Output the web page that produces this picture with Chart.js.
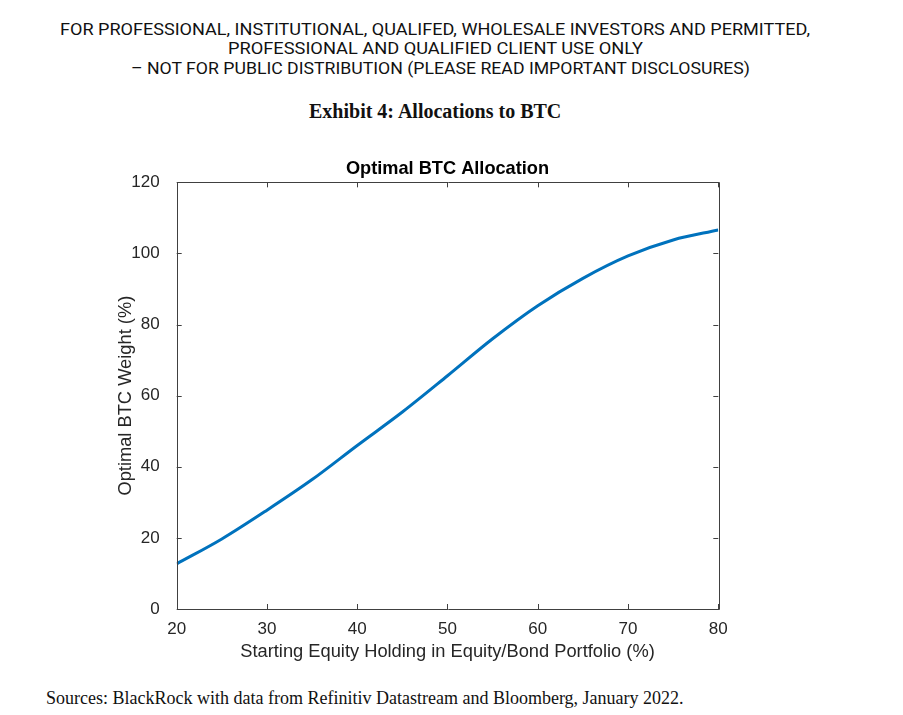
<!DOCTYPE html>
<html>
<head>
<meta charset="utf-8">
<script src="https://cdn.jsdelivr.net/npm/chart.js@4"></script>
<style>
  body { margin: 0; background: #fff; width: 903px; height: 715px; position: relative; overflow: hidden; }
  .hdr { position: absolute; white-space: nowrap; font-family: Roboto, "Liberation Sans", sans-serif; font-size: 16px; color: #111; transform-origin: left center; line-height: 20px; }
  .serif { position: absolute; white-space: nowrap; font-family: "Liberation Serif", "Times New Roman", serif; color: #111; line-height: 22px; }
  #wrap { position: absolute; left: 0; top: 140px; width: 903px; height: 540px; }
</style>
</head>
<body>
<div class="hdr" id="h1" data-left="60" data-width="750" style="top:20px">FOR PROFESSIONAL, INSTITUTIONAL, QUALIFED, WHOLESALE INVESTORS AND PERMITTED,</div>
<div class="hdr" id="h2" data-left="228" data-width="415" style="top:39px">PROFESSIONAL AND QUALIFIED CLIENT USE ONLY</div>
<div class="hdr" id="h3" data-left="131" data-width="619" style="top:59px">– NOT FOR PUBLIC DISTRIBUTION (PLEASE READ IMPORTANT DISCLOSURES)</div>
<div class="serif" id="exhibit" style="top:100px; left:309px; font-weight:bold; font-size:20px">Exhibit 4: Allocations to BTC</div>
<div class="serif" id="sources" style="top:687px; left:46px; font-size:18px">Sources: BlackRock with data from Refinitiv Datastream and Bloomberg, January 2022.</div>
<div id="wrap"><canvas id="btcChart"></canvas></div>
<script>
// fit header lines to the widths in the original
document.querySelectorAll(".hdr").forEach(function (el) {
  const w = el.getBoundingClientRect().width;
  el.style.left = el.dataset.left + "px";
  el.style.transform = "scaleX(" + (el.dataset.width / w) + ")";
});

const equityHolding = [20, 25, 30, 35, 40, 45, 50, 55, 60, 65, 70, 75, 80];
const btcWeight = [12.7, 19.7, 27.8, 36.4, 46.0, 55.4, 65.6, 76.0, 85.3, 93.0, 99.3, 103.8, 106.6];
const xTicks = [20, 30, 40, 50, 60, 70, 80];
const yTicks = [0, 20, 40, 60, 80, 100, 120];

const axisColor = "#404040";
const textColor = "#262626";

const boxTicks = {
  id: "boxTicks",
  afterDraw(chart) {
    const ctx = chart.ctx;
    const a = chart.chartArea;
    const xs = chart.scales.x, ys = chart.scales.y;
    const len = 5;
    ctx.save();
    ctx.strokeStyle = axisColor;
    ctx.lineWidth = 1;
    ctx.beginPath();
    ctx.rect(Math.round(a.left) + 0.5, Math.round(a.top) + 0.5, Math.round(a.right - a.left), Math.round(a.bottom - a.top));
    xTicks.forEach(function (v) {
      const px = Math.round(xs.getPixelForValue(v)) + 0.5;
      ctx.moveTo(px, a.bottom); ctx.lineTo(px, a.bottom - len);
      ctx.moveTo(px, a.top); ctx.lineTo(px, a.top + len);
    });
    yTicks.forEach(function (v) {
      const py = Math.round(ys.getPixelForValue(v)) + 0.5;
      ctx.moveTo(a.left, py); ctx.lineTo(a.left + len, py);
      ctx.moveTo(a.right, py); ctx.lineTo(a.right - len, py);
    });
    ctx.stroke();
    ctx.restore();
  }
};

const tickFont = { family: "Arial, 'Liberation Sans', sans-serif", size: 17 };
const titleFont = { family: "Arial, 'Liberation Sans', sans-serif", size: 18.3 };

new Chart(document.getElementById("btcChart"), {
  type: "line",
  data: {
    datasets: [{
      data: equityHolding.map(function (x, i) { return { x: x, y: btcWeight[i] }; }),
      borderColor: "#0072BD",
      borderWidth: 3,
      pointRadius: 0,
      cubicInterpolationMode: "monotone",
      fill: false
    }]
  },
  options: {
    responsive: true,
    maintainAspectRatio: false,
    animation: false,
    layout: { padding: { left: 0, right: 184.7, top: 0, bottom: 0 } },
    plugins: {
      legend: { display: false },
      tooltip: { enabled: false },
      title: {
        display: true,
        text: "Optimal BTC Allocation",
        fullSize: false,
        color: "#000",
        font: { family: "Arial, 'Liberation Sans', sans-serif", size: 18.2, weight: "bold", lineHeight: 1.2 },
        padding: { top: 18, bottom: 2.5 }
      }
    },
    scales: {
      x: {
        type: "linear",
        min: 20, max: 80,
        afterBuildTicks: function (s) { s.ticks = xTicks.map(function (v) { return { value: v }; }); },
        afterFit: function (s) { s.height = 71; },
        grid: { display: false },
        border: { display: false },
        ticks: { color: textColor, font: tickFont, padding: 2, maxRotation: 0 },
        title: {
          display: true,
          text: "Starting Equity Holding in Equity/Bond Portfolio (%)",
          color: textColor,
          font: titleFont,
          padding: { top: 0, bottom: 17 }
        }
      },
      y: {
        min: 0, max: 120,
        afterBuildTicks: function (s) { s.ticks = yTicks.map(function (v) { return { value: v }; }); },
        afterFit: function (s) { s.width = 176.7; },
        grid: { display: false },
        border: { display: false },
        ticks: { color: textColor, font: tickFont, padding: 9 },
        title: {
          display: true,
          text: "Optimal BTC Weight (%)",
          color: textColor,
          font: titleFont,
          padding: { top: 115, bottom: 0 }
        }
      }
    }
  },
  plugins: [boxTicks]
});
</script>
</body>
</html>
